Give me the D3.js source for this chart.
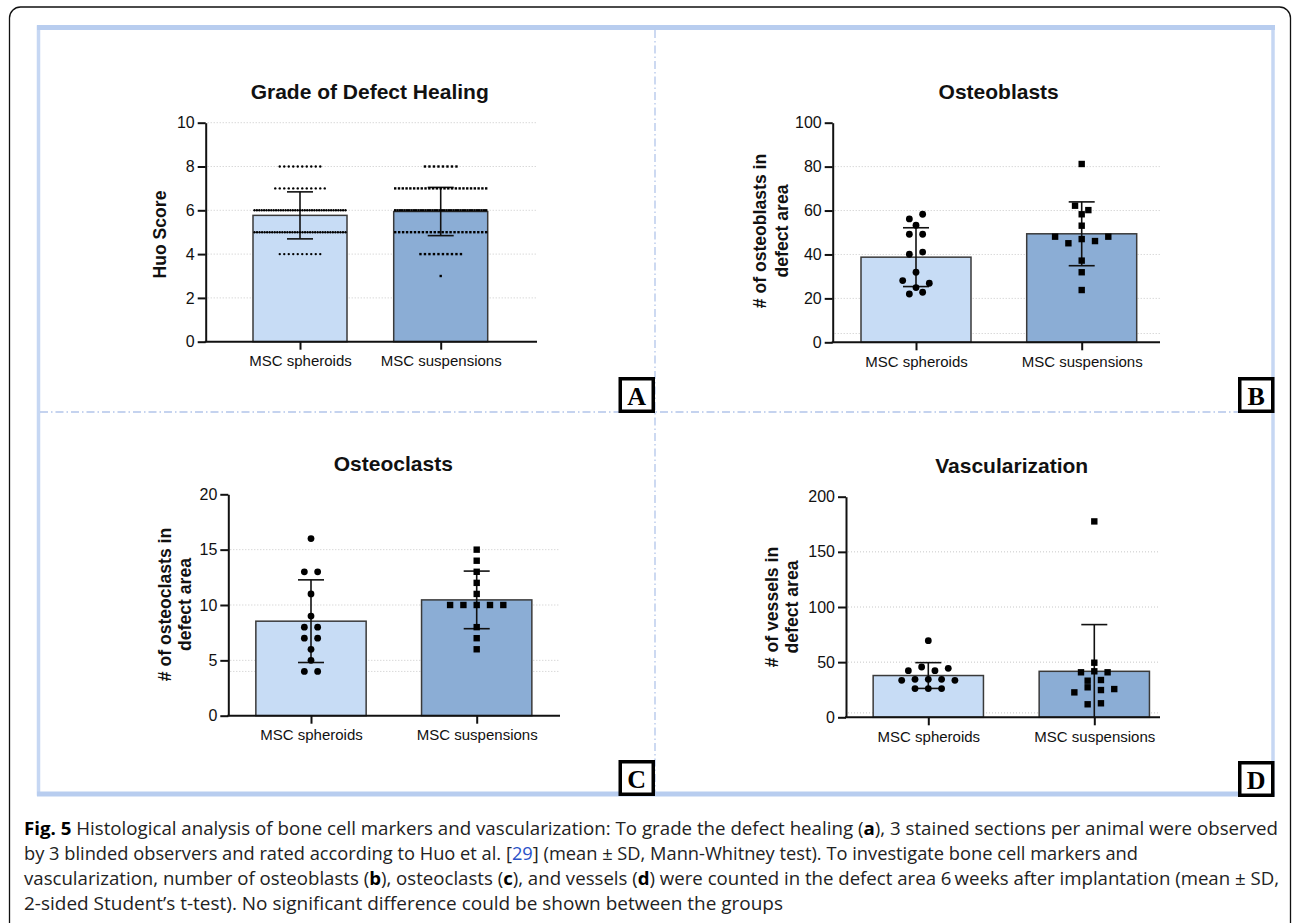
<!DOCTYPE html>
<html><head><meta charset="utf-8">
<script src="https://cdn.jsdelivr.net/npm/d3@7"></script>
<style>
html,body{margin:0;padding:0;background:#fff;}
svg{display:block;}
</style></head>
<body>
<script>
// ---------------- DATA ----------------
const categories = ["MSC spheroids", "MSC suspensions"];

// Panel A: Huo score distribution (score value -> number of ratings)
const huoScores = [3, 4, 5, 6, 7, 8];
const huoSpheroidCounts = [0, 10, 37, 39, 12, 10];
const huoSuspensionCounts = [1, 10, 24, 40, 25, 8];

// Panel B: osteoblasts
const osteoblastsSpheroids = [56.2, 58.3, 53.3, 49.2, 49.2, 40.1, 41.1, 31.9, 28.1, 24.9, 26.9, 22.0, 22.8];
const osteoblastsSuspensions = [81.2, 62.2, 60.2, 58.3, 53.1, 48.1, 45.1, 47.0, 46.1, 48.1, 37.2, 31.9, 23.8];

// Panel C: osteoclasts
const osteoclastsSpheroids = [16, 13, 13, 11, 9, 8, 8, 7, 7, 6, 5, 4, 4];
const osteoclastsSuspensions = [15, 14, 13, 12, 11, 10, 10, 10, 10, 10, 8, 7, 6];

// Panel D: vessels
const vesselsSpheroids = [69.5, 42.3, 45.6, 42.3, 44.4, 33.5, 34.4, 34.4, 34.4, 33.5, 26, 26, 26];
const vesselsSuspensions = [177.6, 49.5, 40.8, 41.7, 40.8, 33.2, 33.8, 22.6, 27.2, 24.7, 25.6, 11.8, 12.7];

// Axis ticks
const ticksA = [0, 2, 4, 6, 8, 10];
const ticksB = [0, 20, 40, 60, 80, 100];
const ticksC = [0, 5, 10, 15, 20];
const ticksD = [0, 50, 100, 150, 200];

const titles = ["Grade of Defect Healing", "Osteoblasts", "Osteoclasts", "Vascularization"];
const yLabels = [["Huo Score"], ["# of osteoblasts in", "defect area"], ["# of osteoclasts in", "defect area"], ["# of vessels in", "defect area"]];
const panelLetters = ["A", "B", "C", "D"];

const captionLines = [
  [{t:"Fig. 5", b:true}, {t:" Histological analysis of bone cell markers and vascularization: To grade the defect healing ("}, {t:"a", b:true}, {t:"), 3 stained sections per animal were observed"}],
  [{t:"by 3 blinded observers and rated according to Huo et al. ["}, {t:"29", link:true}, {t:"] (mean ± SD, Mann-Whitney test). To investigate bone cell markers and"}],
  [{t:"vascularization, number of osteoblasts ("}, {t:"b", b:true}, {t:"), osteoclasts ("}, {t:"c", b:true}, {t:"), and vessels ("}, {t:"d", b:true}, {t:") were counted in the defect area 6\u2009weeks after implantation (mean ± SD,"}],
  [{t:"2-sided Student\u2019s t-test). No significant difference could be shown between the groups"}]
];

// ---------------- LAYOUT ----------------
const W = 1293, H = 923;
const FONT = "'Liberation Sans', Arial, Helvetica, sans-serif";
const barColors = ["#c7dcf5", "#8badd5"];

const expand = (vals, counts) => vals.flatMap((v, i) => d3.range(counts[i]).map(() => v));

const panels = [
  {data: [expand(huoScores, huoSpheroidCounts), expand(huoScores, huoSuspensionCounts)], ticks: ticksA, grid: [2,4,6,8,10], dense: true,
   axisX: 205.7, xEnd: 537, c: [300, 440.7], bw: 94, yTop: 122.7, yBot: 341.7,
   title: [369.7, 99], ylab: {x: 166, y: 234.5, dx: 22}, box: [618.5, 377]},
  {data: [osteoblastsSpheroids, osteoblastsSuspensions], ticks: ticksB, grid: [4,20,40,60,80],
   axisX: 832.7, xEnd: 1160, c: [916, 1081.7], bw: 110, yTop: 122.7, yBot: 342.3,
   title: [998.7, 98.5], ylab: {x: 766, y: 231, dx: 22}, box: [1238, 377]},
  {data: [osteoclastsSpheroids, osteoclastsSuspensions], ticks: ticksC, grid: [4,5,10,15],
   axisX: 228.3, xEnd: 560, c: [311, 476.7], bw: 110.3, yTop: 494.3, yBot: 715.7,
   title: [393.3, 471], ylab: {x: 171, y: 604.5, dx: 20}, box: [618.5, 760]},
  {data: [vesselsSpheroids, vesselsSuspensions], ticks: ticksD, grid: [4,50,100,150],
   axisX: 846, xEnd: 1160, c: [928.3, 1094.3], bw: 110.3, yTop: 496.7, yBot: 717.3,
   title: [1011.7, 473.3], ylab: {x: 778, y: 607, dx: 20}, box: [1238, 761]}
];

const svg = d3.select("body").append("svg").attr("width", W).attr("height", H);

// outer rounded frame
svg.append("rect").attr("x", 9.5).attr("y", 7).attr("width", 1281).attr("height", 940)
  .attr("rx", 11).attr("fill", "none").attr("stroke", "#111").attr("stroke-width", 1.3);

// inner light-blue frame
const fr = svg.append("g");
fr.append("rect").attr("x", 38.5).attr("y", 27).attr("width", 1234.5).attr("height", 767)
  .attr("fill", "none").attr("stroke", "#c6d7f3").attr("stroke-width", 3.5);
fr.append("line").attr("x1", 37).attr("x2", 1275).attr("y1", 27.5).attr("y2", 27.5).attr("stroke", "#b8cdef").attr("stroke-width", 5);
fr.append("line").attr("x1", 37).attr("x2", 1275).attr("y1", 794).attr("y2", 794).attr("stroke", "#b8cdef").attr("stroke-width", 5);

// dash-dot separators
svg.append("line").attr("x1", 655).attr("x2", 655).attr("y1", 30).attr("y2", 792)
  .attr("stroke", "#b2c5ea").attr("stroke-width", 1.3).attr("stroke-dasharray", "8,3,1.5,3");
svg.append("line").attr("x1", 40).attr("x2", 1271).attr("y1", 412).attr("y2", 412)
  .attr("stroke", "#b2c5ea").attr("stroke-width", 1.3).attr("stroke-dasharray", "8,3,1.5,3");

// beeswarm-ish row layout (GraphPad-like)
function rowOffsets(vals, y, step, thresh) {
  const order = d3.range(vals.length).sort((a, b) => d3.descending(vals[a], vals[b]) || a - b);
  const rows = [];
  let cur = null;
  order.forEach(i => {
    if (cur && Math.abs(y(vals[i]) - y(vals[cur[0]])) <= thresh) cur.push(i);
    else { cur = [i]; rows.push(cur); }
  });
  const off = new Array(vals.length).fill(0);
  rows.forEach(r => {
    r.sort((a, b) => a - b);
    r.forEach((i, k) => off[i] = (k - (r.length - 1) / 2) * step);
  });
  return off;
}

panels.forEach((p, pi) => {
  const g = svg.append("g");
  const y = d3.scaleLinear().domain([0, d3.max(p.ticks)]).range([p.yBot, p.yTop]);
  const x = d3.scalePoint().domain(categories).range(p.c);

  // grid
  g.selectAll(".grid").data(p.grid).join("line")
    .attr("x1", p.axisX + 2).attr("x2", p.xEnd)
    .attr("y1", d => y(d)).attr("y2", d => y(d))
    .attr("stroke", "#c8c8c8").attr("stroke-width", 1).attr("stroke-dasharray", "1,2");

  // bars
  const stats = p.data.map(v => ({mean: d3.mean(v), sd: d3.deviation(v)}));
  g.selectAll(".bar").data(categories).join("rect")
    .attr("x", d => x(d) - p.bw / 2).attr("width", p.bw)
    .attr("y", (d, i) => y(stats[i].mean)).attr("height", (d, i) => p.yBot - y(stats[i].mean))
    .attr("fill", (d, i) => barColors[i]).attr("stroke", "#3a3a3a").attr("stroke-width", 1.5);

  // error bars
  categories.forEach((cat, i) => {
    const cx = x(cat), s = stats[i];
    const hi = s.mean + s.sd, lo = Math.max(0, s.mean - s.sd);
    const eg = g.append("g").attr("stroke", "#111").attr("stroke-width", 1.6);
    eg.append("line").attr("x1", cx).attr("x2", cx).attr("y1", y(hi)).attr("y2", y(lo));
    eg.append("line").attr("x1", cx - 13).attr("x2", cx + 13).attr("y1", y(hi)).attr("y2", y(hi));
    if (s.mean - s.sd > 0)
      eg.append("line").attr("x1", cx - 13).attr("x2", cx + 13).attr("y1", y(lo)).attr("y2", y(lo));
  });

  // points
  categories.forEach((cat, i) => {
    const vals = p.data[i], cx = x(cat);
    let off;
    if (p.dense) {
      off = new Array(vals.length).fill(0);
      const groups = d3.group(d3.range(vals.length), j => vals[j]);
      groups.forEach(idx => {
        const n = idx.length;
        const sp = n > 1 ? Math.min(4.5, (p.bw - 3) / (n - 1)) : 0;
        idx.forEach((j, k) => off[j] = (k - (n - 1) / 2) * sp);
      });
    } else {
      off = rowOffsets(vals, y, 13.3, 7.15);
    }
    const sz = p.dense ? 2.4 : 6.4;
    if (i === 0) {
      g.append("g").selectAll("circle").data(vals).join("circle")
        .attr("cx", (d, j) => cx + off[j]).attr("cy", d => y(d)).attr("r", sz / 2 + (p.dense ? 0 : 0.2))
        .attr("fill", "#000");
    } else {
      g.append("g").selectAll("rect").data(vals).join("rect")
        .attr("x", (d, j) => cx + off[j] - sz / 2).attr("y", d => y(d) - sz / 2)
        .attr("width", sz).attr("height", sz).attr("fill", "#000");
    }
  });

  // y axis
  const ya = g.append("g").attr("transform", `translate(${p.axisX},0)`)
    .call(d3.axisLeft(y).tickValues(p.ticks).tickSize(8).tickSizeOuter(0).tickPadding(3));
  ya.select(".domain").attr("stroke", "#111").attr("stroke-width", 2);
  ya.selectAll(".tick line").attr("stroke", "#111").attr("stroke-width", 2);
  ya.selectAll(".tick text").attr("font-family", FONT).attr("font-size", 16).attr("fill", "#111");

  // x axis
  g.append("line").attr("x1", p.axisX - 1).attr("x2", p.xEnd).attr("y1", p.yBot).attr("y2", p.yBot)
    .attr("stroke", "#111").attr("stroke-width", 2);
  const xa = g.append("g").attr("transform", `translate(0,${p.yBot})`)
    .call(d3.axisBottom(x).tickSize(8).tickSizeOuter(0).tickPadding(6));
  xa.select(".domain").remove();
  xa.selectAll(".tick line").attr("stroke", "#111").attr("stroke-width", 2);
  xa.selectAll(".tick text").attr("font-family", FONT).attr("font-size", 15).attr("fill", "#111");

  // title
  g.append("text").attr("x", p.title[0]).attr("y", p.title[1]).attr("text-anchor", "middle")
    .attr("font-family", FONT).attr("font-weight", "bold").attr("font-size", 21).attr("fill", "#111")
    .text(titles[pi]);

  // y label
  const lines = yLabels[pi];
  const yl = g.append("text").attr("transform", `translate(${p.ylab.x},${p.ylab.y}) rotate(-90)`)
    .attr("text-anchor", "middle").attr("font-family", FONT).attr("font-weight", "bold")
    .attr("font-size", 17.6).attr("fill", "#111");
  lines.forEach((t, k) => {
    yl.append("tspan").attr("x", 0).attr("y", k * p.ylab.dx).text(t);
  });

  // panel letter box
  const bx = svg.append("g").attr("transform", `translate(${p.box[0]},${p.box[1]})`);
  bx.append("rect").attr("x", 1.75).attr("y", 1.75).attr("width", 33).attr("height", 32.5)
    .attr("fill", "#fff").attr("stroke", "#000").attr("stroke-width", 3.5);
  bx.append("text").attr("x", 18.25).attr("y", 27.5).attr("text-anchor", "middle")
    .attr("font-family", "'Liberation Serif', 'Times New Roman', serif").attr("font-weight", "bold")
    .attr("font-size", 26).attr("fill", "#000").text(panelLetters[pi]);
});

// caption
const capWidths = [1254, 1114, 1255, 759];
const capY = [835, 860, 885, 910];
captionLines.forEach((parts, li) => {
  const t = svg.append("text").attr("x", 24).attr("y", capY[li])
    .attr("font-family", "'Liberation Sans Narrow', 'Open Sans', 'Noto Sans', sans-serif")
    .attr("font-size", 17.5).attr("fill", "#222")
    .attr("textLength", capWidths[li]).attr("lengthAdjust", "spacingAndGlyphs");
  parts.forEach(pt => {
    const ts = t.append("tspan").text(pt.t);
    if (pt.b) ts.attr("font-weight", "bold").attr("fill", "#000");
    if (pt.link) ts.attr("fill", "#2a52c9");
  });
});
</script>
</body></html>
